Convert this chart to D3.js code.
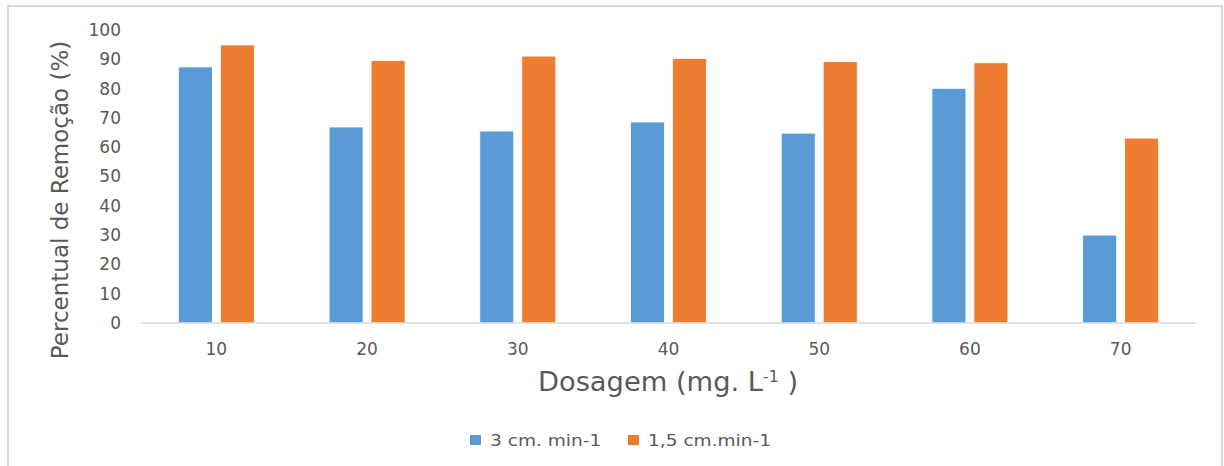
<!DOCTYPE html>
<html>
<head>
<meta charset="utf-8">
<script src="https://cdn.jsdelivr.net/npm/d3@7"></script>
<style>
  body { margin: 0; background: #fff; }
  text { font-family: "DejaVu Sans", sans-serif; fill: #595959; }
</style>
</head>
<body>
<div id="chart"></div>
<script>
var doses = ["10", "20", "30", "40", "50", "60", "70"];
var seriesNames = ["3 cm. min-1", "1,5 cm.min-1"];
var fast = [87.4, 66.9, 65.5, 68.6, 64.8, 80.1, 30.0];
var slow = [94.9, 89.6, 91.1, 90.3, 89.2, 88.8, 63.1];
var yTicks = [0, 10, 20, 30, 40, 50, 60, 70, 80, 90, 100];
var colors = ["#5b9bd5", "#ed7d31"];

var W = 1224, H = 466;
var margin = { top: 30, left: 141, right: 28, bottom: 143 };

var svg = d3.select("#chart").append("svg")
    .attr("width", W)
    .attr("height", H);

// outer frame
svg.append("rect")
    .attr("x", 8).attr("y", 6)
    .attr("width", 1214).attr("height", 470)
    .style("fill", "#fff")
    .style("stroke", "#d9d9d9")
    .style("stroke-width", 2);

var x = d3.scaleBand()
    .domain(doses)
    .range([margin.left, W - margin.right]);

var y = d3.scaleLinear()
    .domain([0, 100])
    .range([H - margin.bottom, margin.top]);

var barW = 34, gap = 8;
var sub = d3.scaleOrdinal()
    .domain([0, 1])
    .range([-(gap / 2) - barW, gap / 2]);

var table = doses.map(function (d, i) {
    return { dose: d, vals: [fast[i], slow[i]] };
});

// bars
var groups = svg.selectAll(".grp")
    .data(table)
    .enter().append("g")
    .attr("class", "grp")
    .attr("transform", function (d) {
        return "translate(" + (x(d.dose) + x.bandwidth() / 2) + ",0)";
    });

groups.selectAll("rect")
    .data(function (d) { return d.vals; })
    .enter().append("rect")
    .attr("x", function (v, j) { return sub(j); })
    .attr("y", function (v) { return y(v); })
    .attr("width", barW)
    .attr("height", function (v) { return y(0) - y(v); })
    .style("fill", function (v, j) { return colors[j]; })
    .style("stroke", "#fff")
    .style("stroke-width", 0.8);

// x axis line
svg.append("line")
    .attr("x1", margin.left).attr("x2", W - margin.right)
    .attr("y1", y(0)).attr("y2", y(0))
    .style("stroke", "#d9d9d9")
    .style("stroke-width", 1.5);

// y tick labels
svg.selectAll(".ytick")
    .data(yTicks)
    .enter().append("text")
    .attr("class", "ytick")
    .attr("x", 121)
    .attr("y", function (d) { return y(d); })
    .attr("dy", "0.35em")
    .attr("text-anchor", "end")
    .style("font-size", "17px")
    .text(function (d) { return d; });

// x tick labels
svg.selectAll(".xtick")
    .data(doses)
    .enter().append("text")
    .attr("class", "xtick")
    .attr("x", function (d) { return x(d) + x.bandwidth() / 2; })
    .attr("y", 349)
    .attr("dy", "0.35em")
    .attr("text-anchor", "middle")
    .style("font-size", "17px")
    .text(function (d) { return d; });

// axis titles
var xt = svg.append("text")
    .attr("transform", "translate(668,391) scale(1.05,1)")
    .attr("text-anchor", "middle")
    .style("font-size", "26px");
xt.append("tspan").text("Dosagem (mg. L");
xt.append("tspan").attr("dy", -9).style("font-size", "15px").text("-1");
xt.append("tspan").attr("dy", 9).text(" )");

svg.append("text")
    .attr("transform", "translate(60,200) rotate(-90)")
    .attr("dy", "0.35em")
    .attr("text-anchor", "middle")
    .style("font-size", "23px")
    .text("Percentual de Remoção (%)");

// legend
var legX = [470, 628];
var leg = svg.selectAll(".leg")
    .data(seriesNames)
    .enter().append("g")
    .attr("class", "leg")
    .attr("transform", function (d, i) { return "translate(" + legX[i] + ",440)"; });

leg.append("rect")
    .attr("x", 0).attr("y", -5)
    .attr("width", 11).attr("height", 10)
    .style("fill", function (d, i) { return colors[i]; });

leg.append("text")
    .attr("transform", "translate(20,0) scale(1.16,1)")
    .attr("dy", "0.35em")
    .style("font-size", "16px")
    .text(function (d) { return d; });
</script>
</body>
</html>
